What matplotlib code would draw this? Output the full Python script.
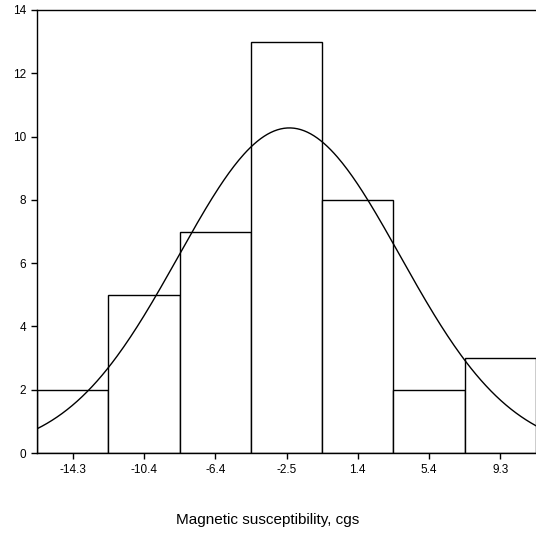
import numpy as np
import matplotlib.pyplot as plt

plt.rcParams['font.family'] = ['Liberation Sans', 'DejaVu Sans']

# histogram bins (centres) and counts
centers = [-14.33, -10.39, -6.45, -2.51, 1.43, 5.37, 9.31]
counts = [2, 5, 7, 13, 8, 2, 3]
tick_labels = ['-14.3', '-10.4', '-6.4', '-2.5', '1.4', '5.4', '9.3']
bin_width = 3.94

# fitted normal curve parameters
fit_mean = -2.35
fit_sd = 6.12
n_total = sum(counts)

fig = plt.figure(figsize=(5.36, 5.39), dpi=100)
ax = fig.add_axes([37 / 536, (539 - 453) / 539, 1 - 37 / 536, (453 - 10) / 539])

ax.bar(centers, counts, width=bin_width, color='white', edgecolor='black', linewidth=1.0)

xmin = centers[0] - bin_width / 2
xmax = centers[-1] + bin_width / 2
xs = np.linspace(xmin, xmax, 300)
ys = n_total * bin_width / (fit_sd * np.sqrt(2 * np.pi)) * np.exp(-0.5 * ((xs - fit_mean) / fit_sd) ** 2)
ax.plot(xs, ys, color='black', linewidth=1.0)

ax.set_xlim(xmin, xmax)
ax.set_ylim(0, 14)
ax.set_yticks(range(0, 15, 2))
ax.set_xticks(centers)
ax.set_xticklabels(tick_labels)
ax.tick_params(direction='out', length=4, width=1, labelsize=8.5, pad=4, color='black')
ax.spines['right'].set_visible(False)
for s in ['left', 'bottom', 'top']:
    ax.spines[s].set_linewidth(1.0)

fig.text(0.5, 1 - 520 / 539, 'Magnetic susceptibility, cgs', fontsize=11, ha='center', va='center')

fig.savefig('out.png', dpi=100)
